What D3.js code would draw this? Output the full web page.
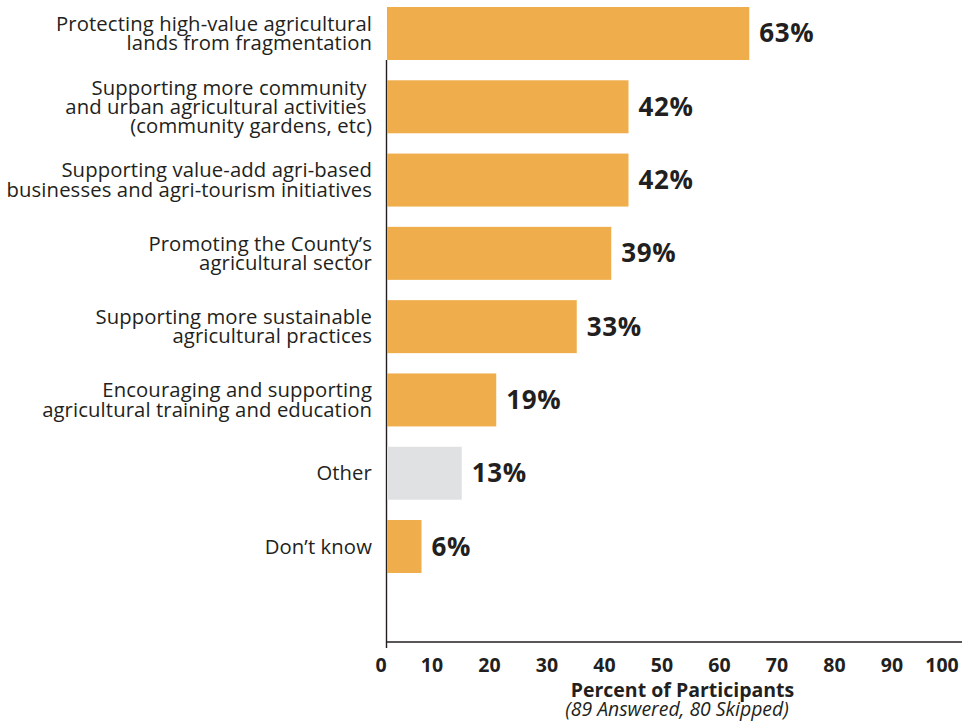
<!DOCTYPE html>
<html>
<head>
<meta charset="utf-8">
<script src="https://cdn.jsdelivr.net/npm/d3@7"></script>
<style>
  html, body { margin: 0; padding: 0; background: #fff; }
  svg { display: block; }
  text { font-family: "Open Sans", Lato, sans-serif; fill: #231f20; }
</style>
</head>
<body>
<svg id="chart" width="964" height="725"></svg>
<script>
// ---- data ----
const categories = [
  ["Protecting high-value agricultural", "lands from fragmentation"],
  ["Supporting more community\u00a0", "and urban agricultural activities\u00a0", "(community gardens, etc)"],
  ["Supporting value-add agri-based", "businesses and agri-tourism initiatives"],
  ["Promoting the County\u2019s", "agricultural sector"],
  ["Supporting more sustainable", "agricultural practices"],
  ["Encouraging and supporting", "agricultural training and education"],
  ["Other"],
  ["Don\u2019t know"]
];
const values = [63, 42, 42, 39, 33, 19, 13, 6];
const isOther = [false, false, false, false, false, false, true, false];
const tickValues = [0, 10, 20, 30, 40, 50, 60, 70, 80, 90, 100];
const axisTitle = "Percent of Participants";
const axisSubtitle = "(89 Answered, 80 Skipped)";

// ---- layout ----
const svg = d3.select("#chart");
const x0 = 387, x1 = 962;
const axisY = 642;
const x = d3.scaleLinear().domain([0, 100]).range([x0, x1]);
const idx = d3.range(values.length);
const y = d3.scaleBand().domain(idx).range([7, 573]).paddingInner(0.277).paddingOuter(0);

const ORANGE = "#efae4b", GREY = "#e0e1e3";

// axis lines
svg.append("line").attr("x1", x0 - 0.5).attr("x2", x0 - 0.5).attr("y1", 60).attr("y2", 648)
  .attr("stroke", "#231f20").attr("stroke-width", 1.4);
svg.append("line").attr("x1", x0 - 1).attr("x2", x1).attr("y1", axisY).attr("y2", axisY)
  .attr("stroke", "#231f20").attr("stroke-width", 1.4);

// bars
svg.selectAll("rect.bar").data(idx).enter().append("rect")
  .attr("class", "bar")
  .attr("x", x(0))
  .attr("y", i => y(i))
  .attr("width", i => x(values[i]) - x(0))
  .attr("height", y.bandwidth())
  .attr("fill", i => isOther[i] ? GREY : ORANGE);

// value labels
svg.selectAll("text.val").data(idx).enter().append("text")
  .attr("class", "val")
  .attr("x", i => x(values[i]) + 10)
  .attr("y", i => y(i) + y.bandwidth() / 2 + 9)
  .attr("font-size", 26)
  .attr("font-weight", 700)
  .attr("letter-spacing", 0.6)
  .text(i => values[i] + "%");

// category labels
const lh = 19.2;
const capH = 14;
svg.selectAll("text.cat").data(idx).enter().append("text")
  .attr("class", "cat")
  .attr("text-anchor", "end")
  .attr("font-size", 20.3)
  .attr("letter-spacing", 0.1)
  .attr("y", i => {
    const n = categories[i].length;
    const blockH = capH + (n - 1) * lh;
    return y(i) + y.bandwidth() / 2 - blockH / 2 + capH;
  })
  .each(function(i) {
    const t = d3.select(this);
    const yy = +t.attr("y");
    categories[i].forEach((line, k) => {
      t.append("tspan").attr("x", 372).attr("y", yy + k * lh).text(line);
    });
  });

// x axis tick labels
const labelOffset = v => v === 0 ? -6 : (v === 100 ? -20 : -12.5);
svg.selectAll("text.tick").data(tickValues).enter().append("text")
  .attr("class", "tick")
  .attr("text-anchor", "middle")
  .attr("x", v => x(v) + labelOffset(v))
  .attr("y", 672)
  .attr("font-size", 19.5)
  .attr("font-weight", 700)
  .text(v => v);

// axis titles
svg.append("text").attr("x", 682.5).attr("y", 697).attr("text-anchor", "middle")
  .attr("font-size", 19.5).attr("font-weight", 700).text(axisTitle);
svg.append("text").attr("x", 677).attr("y", 716).attr("text-anchor", "middle")
  .attr("font-size", 19.4).attr("font-style", "italic").text(axisSubtitle);
</script>
</body>
</html>
